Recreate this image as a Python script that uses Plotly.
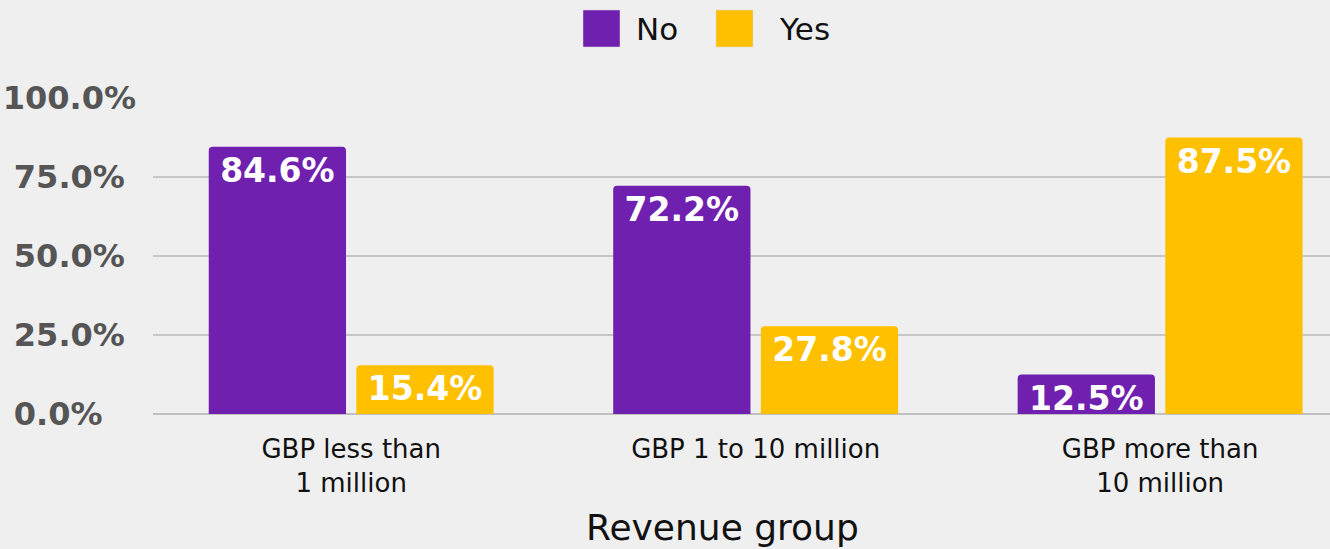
import plotly.graph_objects as go

# ---- data ----
categories = ["GBP less than<br>1 million", "GBP 1 to 10 million", "GBP more than<br>10 million"]
no_values = [84.6, 72.2, 12.5]
yes_values = [15.4, 27.8, 87.5]
series_names = ["No", "Yes"]
y_tick_vals = [0, 25, 50, 75, 100]
y_tick_text = ["0.0%\u00a0\u00a0\u00a0", "25.0%\u00a0", "50.0%\u00a0", "75.0%\u00a0", "100.0%"]

PURPLE = "#7020AF"
YELLOW = "#FFC000"
BG = "#efeff0"

fig = go.Figure()
for name, vals, col in [(series_names[0], no_values, PURPLE), (series_names[1], yes_values, YELLOW)]:
    fig.add_trace(go.Bar(
        name=name, x=categories, y=vals,
        marker=dict(color=col, line=dict(width=0)),
        texttemplate="%{y:.1f}%", textposition="inside", insidetextanchor="end",
        constraintext="none",
        textfont=dict(family="DejaVu Sans", size=33, color="white", weight="bold"),
        showlegend=False, hoverinfo="skip",
    ))

# Legend drawn as swatches + text (large square swatches as in the reference)
PW, PH, L, B = 1177.0, 316.0, 153.0, 414.0
def px(x):
    return (x - L) / PW
def py(y):
    return (B - y) / PH

shapes = []
annotations = []
for name, col, sx, tx in [(series_names[0], PURPLE, 583, 634), (series_names[1], YELLOW, 716, 777)]:
    shapes.append(dict(type="rect", xref="paper", yref="paper",
                       x0=px(sx), x1=px(sx + 37), y0=py(47), y1=py(10),
                       fillcolor=col, line=dict(width=0.5, color="#d9d9d9")))
    annotations.append(dict(text=name, xref="paper", yref="paper", x=px(tx), y=py(29),
                            xanchor="left", yanchor="middle", showarrow=False,
                            font=dict(family="DejaVu Sans", size=31, color="#111111")))

# axis title placed under the categories
annotations.append(dict(text="Revenue group", xref="paper", yref="paper", x=px(722), y=py(527),
                        xanchor="center", yanchor="middle", showarrow=False,
                        font=dict(family="DejaVu Sans", size=36, color="#111111")))

fig.update_layout(
    width=1330, height=549,
    margin=dict(l=153, r=0, t=98, b=135),
    paper_bgcolor=BG, plot_bgcolor=BG,
    barmode="group", bargap=0.27, bargroupgap=0.07, barcornerradius=4,
    uniformtext=dict(mode="show", minsize=33),
    showlegend=False,
    shapes=shapes, annotations=annotations,
    xaxis=dict(
        range=[-0.49, 2.42], showgrid=False, zeroline=False, showline=False,
        ticks="outside", ticklen=12, tickcolor="rgba(0,0,0,0)",
        tickfont=dict(family="DejaVu Sans", size=26, color="#111111"),
    ),
    yaxis=dict(
        range=[0, 100], tickvals=y_tick_vals, ticktext=y_tick_text,
        showgrid=True, gridcolor="#c6c6c6", gridwidth=2,
        zeroline=True, zerolinecolor="#c0c0c0", zerolinewidth=2,
        showline=False, ticklabelstandoff=16,
        tickfont=dict(family="DejaVu Sans", size=32, color="#555555", weight="bold"),
    ),
)

fig.write_html("out.html", config={"displayModeBar": False},
               post_script="document.body.style.margin='0';")
